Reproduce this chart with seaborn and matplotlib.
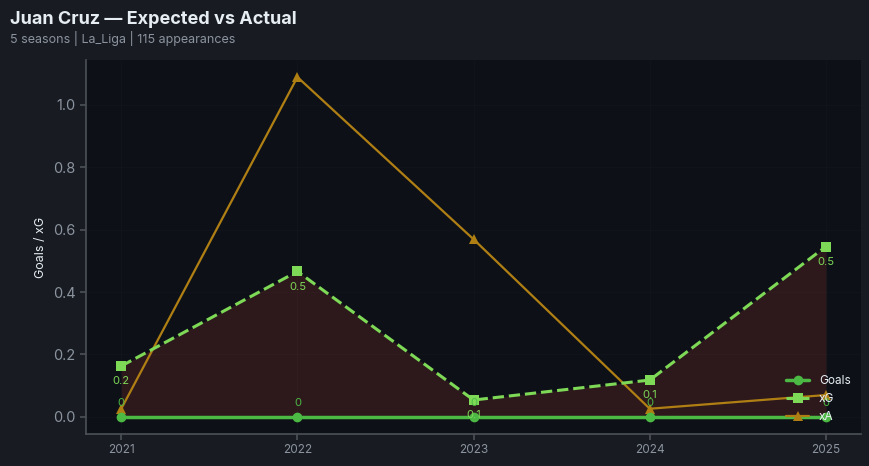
import matplotlib
matplotlib.use("Agg")
import matplotlib.pyplot as plt
import seaborn as sns
import pandas as pd
import numpy as np

seasons = [2021, 2022, 2023, 2024, 2025]
goals = [0, 0, 0, 0, 0]
xg = [0.163, 0.466, 0.054, 0.118, 0.546]
xa = [0.026, 1.089, 0.569, 0.026, 0.07]

title = "Juan Cruz \u2014 Expected vs Actual"
subtitle = "5 seasons | La_Liga | 115 appearances"

sns.set_theme(style="dark")
plt.rcParams['font.family'] = ['Inter', 'DejaVu Sans']

fig_bg = "#181b22"
ax_bg = "#0d1117"
fig, ax = plt.subplots(figsize=(8.69, 4.66), dpi=100)
fig.patch.set_facecolor(fig_bg)
ax.set_facecolor(ax_bg)
fig.subplots_adjust(left=0.099, right=0.991, top=0.871, bottom=0.069)

df = pd.DataFrame({"season": seasons, "Goals": goals, "xG": xg, "xA": xa})

ax.fill_between(df["season"], df["Goals"], df["xG"], color="#e74c3c", alpha=0.15, linewidth=0, zorder=1)
sns.lineplot(data=df, x="season", y="Goals", ax=ax, color="#4cb944", linewidth=2.5,
             marker="o", markersize=7, markeredgewidth=0, label="Goals", zorder=3)
sns.lineplot(data=df, x="season", y="xG", ax=ax, color="#7ed957", linewidth=2.2,
             linestyle="--", marker="s", markersize=7, markeredgewidth=0, label="xG", zorder=3)
sns.lineplot(data=df, x="season", y="xA", ax=ax, color="#b07f14", linewidth=1.6,
             marker="^", markersize=7, markeredgewidth=0, label="xA", zorder=2)

for s, g in zip(seasons, goals):
    ax.annotate(f"{g:g}", (s, g), textcoords="offset points", xytext=(0, 8),
                ha="center", fontsize=8, color="#4cb944")
for s, v in zip(seasons, xg):
    ax.annotate(f"{v:.1f}", (s, v), textcoords="offset points", xytext=(0, -13),
                ha="center", fontsize=8, color="#7ed957")

ax.set_xticks(seasons)
ax.set_xticklabels([str(s) for s in seasons])
ax.set_xlabel("")
ax.set_ylabel("Goals / xG", color="#e6edf3", fontsize=9)
ax.tick_params(axis="x", colors="#8b949e", labelsize=8.5, length=4, color="#4a4f57")
ax.tick_params(axis="y", colors="#8b949e", labelsize=10.5, length=4, color="#4a4f57")
ax.tick_params(bottom=True, left=True)
for sp in ["left", "bottom"]:
    ax.spines[sp].set_color("#4a4f57")
for sp in ["top", "right"]:
    ax.spines[sp].set_visible(False)
ax.grid(True, color="#ffffff", alpha=0.02, linewidth=0.6)

leg = ax.legend(loc="lower right", frameon=False, fontsize=8.5, labelcolor="#e6edf3")

fig.text(0.012, 0.958, title, fontsize=13, fontweight="bold", color="#e6edf3", ha="left", va="center")
fig.text(0.012, 0.918, subtitle, fontsize=9, color="#8b949e", ha="left", va="center")

fig.savefig("out.png", dpi=100, facecolor=fig_bg)
